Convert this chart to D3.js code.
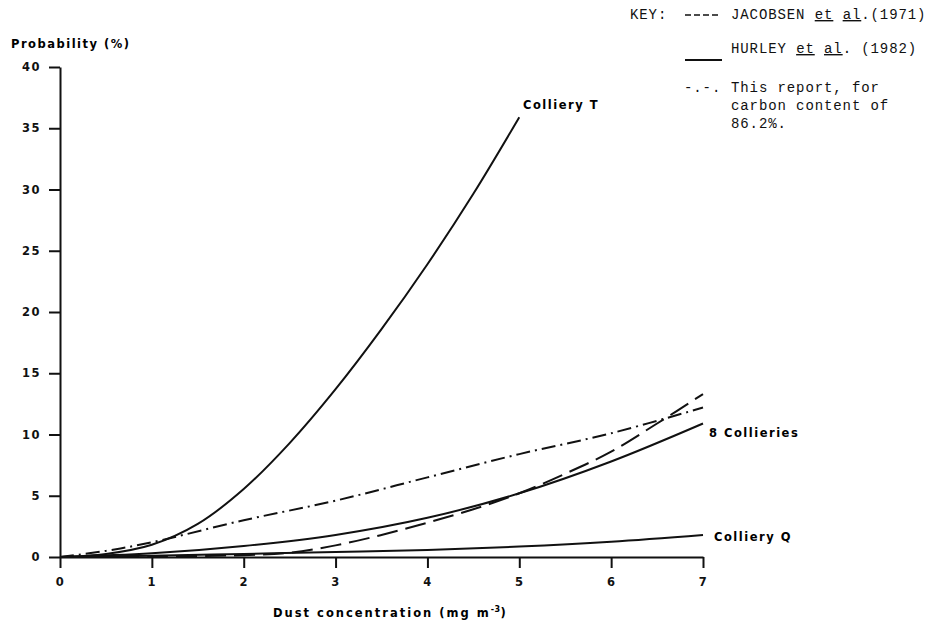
<!DOCTYPE html>
<html><head><meta charset="utf-8">
<script src="https://cdn.jsdelivr.net/npm/d3@7"></script>
<style>
body{margin:0;background:#fff;}
svg{display:block;}
.tick text{font-family:"DejaVu Sans",sans-serif;font-weight:bold;font-size:11.5px;letter-spacing:1.5px;}
.lab{font-family:"DejaVu Sans",sans-serif;font-weight:bold;font-size:11.5px;letter-spacing:1.5px;}
.key{font-family:"Liberation Mono","Courier New",monospace;font-size:14px;letter-spacing:0.9px;}
</style></head>
<body><svg id="c" width="927" height="621"></svg>
<script>
const xTicks = [0,1,2,3,4,5,6,7];
const yTicks = [0,5,10,15,20,25,30,35,40];
const seriesT_x = [0,0.5,1,1.5,2,2.5,3,3.5,4,4.5,5];
const seriesT_y = [0,0.25,1.0,2.7,5.55,9.3,13.7,18.6,23.9,29.65,35.9];
const seriesReport_x = [0,0.5,1,2,3,4,5,6,7];
const seriesReport_y = [0,0.5,1.2,3.0,4.6,6.5,8.4,10.1,12.2];
const series8_x = [0,1,2,3,4,5,6,7];
const series8_y = [0,0.3,0.9,1.8,3.2,5.2,7.8,10.9];
const seriesJac_x = [0,1,2,2.5,3,3.5,4,4.5,5,5.5,6,6.5,7];
const seriesJac_y = [0,0.05,0.15,0.35,0.95,1.8,2.8,3.9,5.2,6.8,8.6,10.9,13.3];
const seriesQ_x = [0,1,2,3,4,5,6,7];
const seriesQ_y = [0,0.1,0.25,0.4,0.57,0.85,1.25,1.8];
const curveLabels = ["Colliery T","8 Collieries","Colliery Q"];

const svg = d3.select("#c");
const x = d3.scaleLinear().domain([0,7]).range([60,703]);
const y = d3.scaleLinear().domain([0,40]).range([557,67]);

svg.append("g").attr("transform","translate(0,557)")
  .call(d3.axisBottom(x).tickValues(xTicks).tickFormat(d3.format("d")).tickSize(11).tickSizeOuter(0).tickPadding(10));
svg.append("g").attr("transform","translate(60,0)")
  .call(d3.axisLeft(y).tickValues(yTicks).tickFormat(d3.format("d")).tickSize(11).tickSizeOuter(0).tickPadding(8));
svg.selectAll(".domain").attr("stroke","#111").attr("stroke-width",2);
svg.selectAll(".tick line").attr("stroke","#111").attr("stroke-width",2);
svg.selectAll(".tick text").attr("fill","#111");

const line = d3.line().x(d=>x(d[0])).y(d=>y(d[1])).curve(d3.curveCatmullRom.alpha(0.5));
function draw(xs, ys, dash){
  svg.append("path").datum(xs.map((v,i)=>[v,ys[i]]))
    .attr("d",line).attr("fill","none").attr("stroke","#111").attr("stroke-width",2)
    .attr("stroke-dasharray",dash||null);
}
draw(seriesT_x, seriesT_y);
draw(series8_x, series8_y);
draw(seriesQ_x, seriesQ_y);
draw(seriesJac_x, seriesJac_y, "21,8");
draw(seriesReport_x, seriesReport_y, "14,5,2,5");

svg.append("text").attr("class","lab").attr("x",523).attr("y",109).text(curveLabels[0]);
svg.append("text").attr("class","lab").attr("x",709).attr("y",437).text(curveLabels[1]);
svg.append("text").attr("class","lab").attr("x",714).attr("y",541).text(curveLabels[2]);

svg.append("text").attr("class","lab").attr("x",11).attr("y",48).text("Probability (%)");
const xl = svg.append("text").attr("class","lab").attr("x",273).attr("y",617).style("letter-spacing","2px");
xl.append("tspan").text("Dust concentration (mg m");
xl.append("tspan").attr("dy",-5).style("font-size","8px").style("letter-spacing","0.5px").text("-3");
xl.append("tspan").attr("dy",5).text(")");

// key
const k = svg.append("g").attr("class","key").attr("fill","#111");
k.append("text").attr("x",630).attr("y",19).text("KEY:");
k.append("line").attr("x1",685).attr("x2",719).attr("y1",15).attr("y2",15).attr("stroke","#111").attr("stroke-width",1.6).attr("stroke-dasharray","6,3");
const t1 = k.append("text").attr("x",731).attr("y",19);
t1.append("tspan").text("JACOBSEN ");
t1.append("tspan").attr("text-decoration","underline").text("et");
t1.append("tspan").text(" ");
t1.append("tspan").attr("text-decoration","underline").text("al");
t1.append("tspan").text(".(1971)");
k.append("line").attr("x1",685).attr("x2",722).attr("y1",60).attr("y2",60).attr("stroke","#111").attr("stroke-width",2);
const t2 = k.append("text").attr("x",731).attr("y",53);
t2.append("tspan").text("HURLEY ");
t2.append("tspan").attr("text-decoration","underline").text("et");
t2.append("tspan").text(" ");
t2.append("tspan").attr("text-decoration","underline").text("al");
t2.append("tspan").text(". (1982)");
k.append("text").attr("x",684).attr("y",92).text("-.-.");
k.append("text").attr("x",731).attr("y",92).text("This report, for");
k.append("text").attr("x",731).attr("y",110).text("carbon content of");
k.append("text").attr("x",731).attr("y",128).text("86.2%.");
</script></body></html>
